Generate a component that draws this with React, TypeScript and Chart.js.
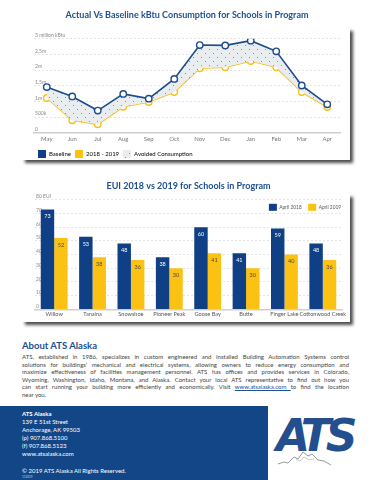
import React, { useEffect, useRef } from "react";
import { Chart, registerables } from "chart.js";

Chart.register(...registerables);

// ---------- data ----------
const months = ["May", "Jun", "Jul", "Aug", "Sep", "Oct", "Nov", "Dec", "Jan", "Feb", "Mar", "Apr"];
const baselineKbtu = [1460000, 1160000, 710000, 1240000, 1090000, 1720000, 2800000, 2790000, 2940000, 2600000, 1510000, 910000];
const actualKbtu = [1110000, 400000, 270000, 830000, 980000, 1300000, 2060000, 2090000, 2290000, 2090000, 1300000, 820000];
const kbtuTickLabels = ["0", "500k", "1m", "1.5m", "2m", "2.5m", "3 million kBtu"];

const schools = ["Willow", "Tanaina", "Snowshoe", "Pioneer Peak", "Goose Bay", "Butte", "Finger Lake", "Cottonwood Creek"];
const eui2018 = [73, 53, 48, 38, 60, 41, 59, 48];
const eui2019 = [52, 38, 36, 30, 41, 30, 40, 36];
const euiTickLabels = ["0", "10", "20", "30", "40", "50", "60", "70", "80 EUI"];

const aboutLines = [
  "ATS, established in 1986, specializes in custom engineered and installed Building Automation Systems control",
  "solutions for buildings\u2019 mechanical and electrical systems, allowing owners to reduce energy consumption and",
  "maximize effectiveness of facilities management personnel. ATS has offices and provides services in Colorado,",
  "Wyoming, Washington, Idaho, Montana, and Alaska. Contact your local ATS representative to find out how you",
];
const footerLines = ["139 E 51st Street", "Anchorage, AK 99503", "(p) 907.868.5100", "(f) 907.868.5123", "www.atsalaska.com"];

// ---------- styles ----------
const FONT = "Lato, 'Open Sans', sans-serif";
const TITLE_BLUE = "#1d4f91";
const LINE_BLUE = "#1b4c8c";
const LINE_YELLOW = "#f6c01a";
const BAR_BLUE = "#0f3f85";
const BAR_YELLOW = "#fcc213";

function makePattern(): CanvasPattern | string {
  const c = document.createElement("canvas");
  c.width = 8;
  c.height = 8;
  const g = c.getContext("2d");
  if (!g) return "#e9edf0";
  g.fillStyle = "#e9edf0";
  g.fillRect(0, 0, 8, 8);
  g.fillStyle = "#8a9099";
  g.fillRect(1, 1, 1, 1);
  g.fillRect(5, 5, 1, 1);
  const p = g.createPattern(c, "repeat");
  return p || "#e9edf0";
}

const barValueLabels = {
  id: "barValueLabels",
  afterDatasetsDraw(chart: any) {
    const ctx = chart.ctx;
    ctx.save();
    ctx.font = `5.5px ${FONT}`;
    ctx.textAlign = "center";
    ctx.textBaseline = "middle";
    chart.data.datasets.forEach((ds: any, di: number) => {
      ctx.fillStyle = di === 0 ? "#ffffff" : "#4a4a4a";
      chart.getDatasetMeta(di).data.forEach((bar: any, i: number) => {
        ctx.fillText(String(ds.data[i]), bar.x, bar.y + 7);
      });
    });
    ctx.restore();
  },
};

// legend drawn inside the chart area, top-right
const insideLegend = {
  id: "insideLegend",
  afterDraw(chart: any) {
    const ctx = chart.ctx;
    const area = chart.chartArea;
    ctx.save();
    ctx.font = `4.8px ${FONT}`;
    ctx.textBaseline = "middle";
    ctx.textAlign = "left";
    const boxW = 8;
    const boxH = 7;
    const gap = 2.5;
    const itemGap = 6.5;
    const ds = chart.data.datasets;
    let x = area.right - 1;
    const y = area.top + 4;
    for (let i = ds.length - 1; i >= 0; i--) {
      const w = ctx.measureText(ds[i].label).width;
      x -= w;
      ctx.fillStyle = "#555";
      ctx.fillText(ds[i].label, x, y + boxH / 2);
      x -= gap + boxW;
      ctx.fillStyle = ds[i].backgroundColor;
      ctx.fillRect(x, y, boxW, boxH);
      x -= itemGap;
    }
    ctx.restore();
  },
};

function LineChart() {
  const ref = useRef<HTMLCanvasElement | null>(null);
  useEffect(() => {
    if (!ref.current) return;
    const pattern = makePattern();
    const chart = new Chart(ref.current, {
      type: "line",
      data: {
        labels: months,
        datasets: [
          {
            label: "Baseline",
            data: baselineKbtu,
            borderColor: LINE_BLUE,
            backgroundColor: pattern as any,
            fill: "+1",
            borderWidth: 1.6,
            pointRadius: 3.2,
            pointBorderWidth: 1.4,
            pointBackgroundColor: "#ffffff",
            pointBorderColor: LINE_BLUE,
            tension: 0,
          },
          {
            label: "2018 - 2019",
            data: actualKbtu,
            borderColor: LINE_YELLOW,
            backgroundColor: LINE_YELLOW,
            fill: false,
            borderWidth: 1.6,
            pointRadius: 3.2,
            pointBorderWidth: 1.4,
            pointBackgroundColor: "#ffffff",
            pointBorderColor: LINE_YELLOW,
            tension: 0,
          },
        ],
      },
      options: {
        animation: false,
        responsive: false,
        maintainAspectRatio: false,
        layout: { padding: { left: 34, right: 31, top: 0, bottom: 2 } },
        plugins: {
          tooltip: { enabled: false },
          title: {
            display: true,
            text: "Actual Vs Baseline kBtu Consumption for Schools in Program",
            color: TITLE_BLUE,
            font: { family: FONT, size: 9, weight: "bold" },
            padding: { top: 10, bottom: 18 },
          },
          legend: {
            position: "bottom",
            align: "start",
            labels: {
              boxWidth: 8,
              boxHeight: 8,
              padding: 4,
              color: "#666",
              font: { family: FONT, size: 6 },
              generateLabels: () => [
                { text: "Baseline", fillStyle: BAR_BLUE, strokeStyle: BAR_BLUE, lineWidth: 0, hidden: false, datasetIndex: 0 },
                { text: "2018 - 2019", fillStyle: BAR_YELLOW, strokeStyle: BAR_YELLOW, lineWidth: 0, hidden: false, datasetIndex: 1 },
                { text: "Avoided Consumption", fillStyle: pattern as any, strokeStyle: "#e9edf0", lineWidth: 0, hidden: false, datasetIndex: 0 },
              ],
            },
          },
        },
        scales: {
          x: {
            offset: true,
            grid: { display: false, drawTicks: false },
            border: { display: true, color: "#cfcfcf", width: 1.5 },
            ticks: { font: { family: FONT, size: 6 }, color: "#777", padding: 3, maxRotation: 0, autoSkip: false },
          },
          y: {
            min: 0,
            max: 3000000,
            afterFit: (s: any) => {
              s.width = 0;
            },
            ticks: {
              stepSize: 500000,
              mirror: true,
              padding: 1,
              labelOffset: -3.5,
              font: { family: FONT, size: 5 },
              color: "#888",
              callback: (_v: any, i: number) => kbtuTickLabels[i],
            },
            grid: { color: "#dedede", lineWidth: 0.8, drawTicks: false },
            border: { display: false, dash: [2, 2] },
          },
        },
      } as any,
    });
    return () => chart.destroy();
  }, []);
  return <canvas ref={ref} width={371} height={170} style={{ position: "absolute", left: 0, top: 0, width: 371, height: 170 }} />;
}

function BarChart() {
  const ref = useRef<HTMLCanvasElement | null>(null);
  useEffect(() => {
    if (!ref.current) return;
    const chart = new Chart(ref.current, {
      type: "bar",
      data: {
        labels: schools,
        datasets: [
          { label: "April 2018", data: eui2018, backgroundColor: BAR_BLUE, categoryPercentage: 0.7, barPercentage: 1 },
          { label: "April 2019", data: eui2019, backgroundColor: BAR_YELLOW, categoryPercentage: 0.7, barPercentage: 1 },
        ],
      },
      options: {
        animation: false,
        responsive: false,
        maintainAspectRatio: false,
        layout: { padding: { left: 35, right: 29, top: 0, bottom: 0 } },
        plugins: {
          tooltip: { enabled: false },
          title: {
            display: true,
            text: "EUI 2018 vs 2019 for Schools in Program",
            color: TITLE_BLUE,
            font: { family: FONT, size: 9, weight: "bold" },
            padding: { top: 9, bottom: 8 },
          },
          legend: { display: false },
        },
        scales: {
          x: {
            grid: { display: false, drawTicks: false },
            border: { display: true, color: "#cfcfcf", width: 1.5 },
            ticks: { font: { family: FONT, size: 5.6 }, color: "#555", padding: 2, maxRotation: 0, autoSkip: false },
          },
          y: {
            min: 0,
            max: 80,
            afterFit: (s: any) => {
              s.width = 0;
            },
            ticks: {
              stepSize: 10,
              mirror: true,
              padding: 1,
              labelOffset: -3,
              font: { family: FONT, size: 5 },
              color: "#888",
              callback: (_v: any, i: number) => euiTickLabels[i],
            },
            grid: { color: "#dedede", lineWidth: 0.8, drawTicks: false },
            border: { display: false, dash: [2, 2] },
          },
        },
      } as any,
      plugins: [barValueLabels, insideLegend],
    });
    return () => chart.destroy();
  }, []);
  return <canvas ref={ref} width={371} height={148} style={{ position: "absolute", left: 0, top: 172, width: 371, height: 148 }} />;
}

const cardStyle: React.CSSProperties = {
  position: "absolute",
  background: "#fff",
  boxShadow: "3px 3px 3px rgba(0,0,0,0.7)",
};

export default function App() {
  return (
    <div
      style={{
        position: "absolute",
        left: 0,
        top: 0,
        width: 371,
        height: 480,
        overflow: "hidden",
        background: "#fff",
        fontFamily: FONT,
      }}
    >
      <div style={{ ...cardStyle, left: 22, top: 28, width: 328, height: 132 }} />
      <div style={{ ...cardStyle, left: 22, top: 194, width: 328, height: 128 }} />
      <LineChart />
      <BarChart />

      <div style={{ position: "absolute", left: 22, top: 340, fontSize: 9.5, fontWeight: 700, color: TITLE_BLUE, lineHeight: "11px" }}>
        About ATS Alaska
      </div>
      <div style={{ position: "absolute", left: 22, top: 353, width: 327, fontSize: 6, color: "#444", lineHeight: "7.6px" }}>
        {aboutLines.map((l, i) => (
          <div key={i} style={{ textAlign: "justify", textAlignLast: "justify" }}>
            {l}
          </div>
        ))}
        <div style={{ textAlign: "justify", textAlignLast: "justify" }}>
          can start running your building more efficiently and economically. Visit{" "}
          <span style={{ color: "#1d4f91", textDecoration: "underline" }}>www.atsalaska.com </span>to find the location
        </div>
        <div>near you.</div>
      </div>

      <div style={{ position: "absolute", left: 0, top: 406, width: 268, height: 74, background: "#124687" }} />
      <div style={{ position: "absolute", left: 22, top: 410, color: "#fff", fontSize: 6, lineHeight: "8.1px" }}>
        <div style={{ fontWeight: 700 }}>ATS Alaska</div>
        {footerLines.map((l, i) => (
          <div key={i}>{l}</div>
        ))}
        <div style={{ height: 8 }} />
        <div>{"\u00A9 2019 ATS Alaska All Rights Reserved."}</div>
        <div style={{ fontSize: 3, lineHeight: "4px", opacity: 0.7 }}>112019</div>
      </div>

      <div
        style={{
          position: "absolute",
          left: 276,
          top: 412,
          fontSize: 44,
          fontWeight: 900,
          fontStyle: "italic",
          color: "#234f8e",
          letterSpacing: -5,
          lineHeight: "48px",
          fontFamily: "'DejaVu Sans', sans-serif",
        }}
      >
        ATS
      </div>
      <svg style={{ position: "absolute", left: 276, top: 448, width: 60, height: 20 }} viewBox="0 0 60 20">
        <polyline points="2,16 8,14 12,15 18,9 22,11 27,4 32,8 36,6 42,12 48,13 55,17" fill="none" stroke="#9a9a9a" strokeWidth="1" />
        <polyline points="20,11 24,13 28,9 33,12 38,11" fill="none" stroke="#bbbbbb" strokeWidth="0.8" />
      </svg>
    </div>
  );
}
